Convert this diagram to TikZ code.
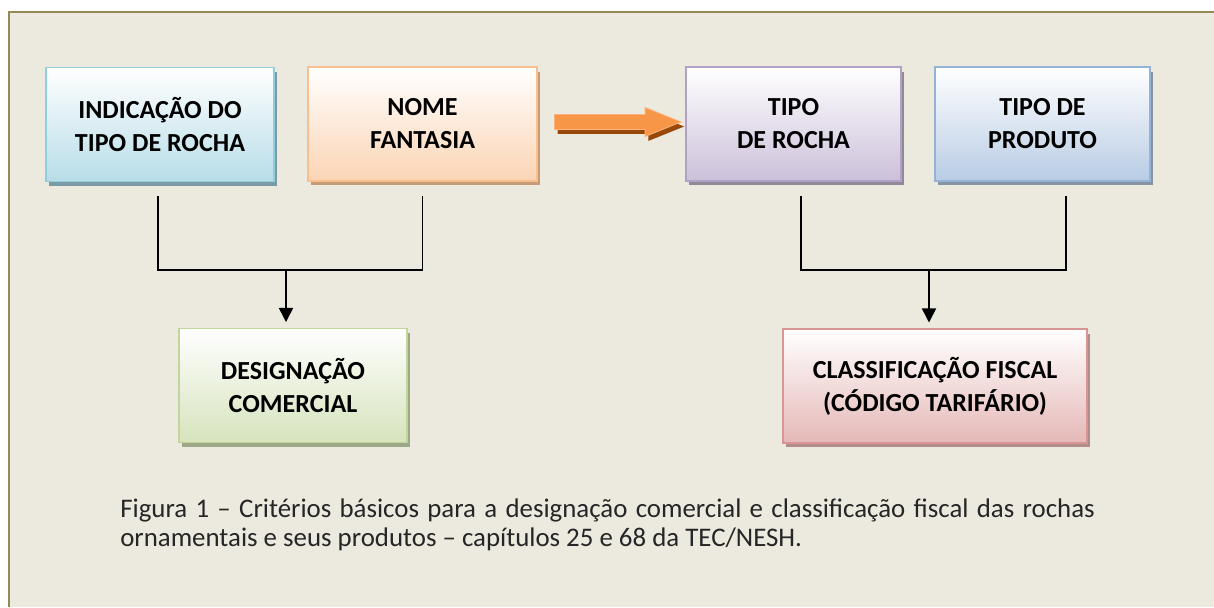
\documentclass[tikz,border=0pt]{standalone}
\usepackage{fontspec}
\setmainfont{Carlito}
\usetikzlibrary{shadows,shapes.arrows,arrows.meta}

\definecolor{fundo}{HTML}{ECE9DF}
\definecolor{moldura}{HTML}{948A54}
\definecolor{azulb}{HTML}{92CDDC}\definecolor{azulf}{HTML}{B7DDE8}\definecolor{azuls}{HTML}{7A9BA5}
\definecolor{laranjab}{HTML}{FABF8F}\definecolor{laranjaf}{HTML}{FBD4B4}\definecolor{laranjas}{HTML}{C49A78}
\definecolor{lilasb}{HTML}{B2A1C7}\definecolor{lilasf}{HTML}{CCC0DA}\definecolor{lilass}{HTML}{918898}
\definecolor{celesteb}{HTML}{95B3D7}\definecolor{celestef}{HTML}{B8CCE4}\definecolor{celestes}{HTML}{8593A2}
\definecolor{verdeb}{HTML}{C2D69B}\definecolor{verdef}{HTML}{D6E3BC}\definecolor{verdes}{HTML}{9DA888}
\definecolor{rosab}{HTML}{D99594}\definecolor{rosaf}{HTML}{E5B8B7}\definecolor{rosas}{HTML}{B08C8B}
\definecolor{seta}{HTML}{F79646}\definecolor{setab}{HTML}{FAB27A}\definecolor{setas}{HTML}{984807}

\tikzset{
  caixa/.style={rectangle, line width=1.3pt, minimum height=81pt, align=center,
    font=\fontsize{18.5}{23.5}\selectfont\bfseries},
  sombra/.style={drop shadow={shadow xshift=2.2pt, shadow yshift=-3.2pt, fill=#1, opacity=1}},
  ligacao/.style={line width=1.1pt},
  flecha/.style={line width=1.1pt, -{Triangle[width=10pt,length=10pt]}, shorten >=4pt},
}

\begin{document}
\begin{tikzpicture}[x=0.025cm,y=-0.025cm]
	\useasboundingbox (0,0) rectangle (1214,607);
	\fill[white] (0,0) rectangle (1214,607);
	\fill[fundo] (9,12) rectangle (1214,607);
	\draw[moldura, line width=1.5pt] (9,607) -- (9,12) -- (1214,12);

	\node[caixa, draw=azulb, top color=white, bottom color=azulf, sombra=azuls, minimum width=162pt] (indicacao) at (160,124.5) {INDICAÇÃO DO\\TIPO DE ROCHA};
	\node[caixa, draw=laranjab, top color=white, bottom color=laranjaf, sombra=laranjas, minimum width=163pt] (nome) at (422.5,124) {NOME\\FANTASIA};
	\node[caixa, draw=lilasb, top color=white, bottom color=lilasf, sombra=lilass, minimum width=153pt] (rocha) at (793.5,124) {TIPO\\DE ROCHA};
	\node[caixa, draw=celesteb, top color=white, bottom color=celestef, sombra=celestes, minimum width=153pt] (produto) at (1042.5,124) {TIPO DE\\PRODUTO};
	\node[caixa, draw=verdeb, top color=white, bottom color=verdef, sombra=verdes, minimum width=162pt] (designacao) at (293,385.5) {DESIGNAÇÃO\\COMERCIAL};
	\node[caixa, draw=rosab, top color=white, bottom color=rosaf, sombra=rosas, minimum width=216pt] (classificacao) at (935,386) {CLASSIFICAÇÃO FISCAL\\(CÓDIGO TARIFÁRIO)};

	\node[single arrow, fill=seta, draw=setab, line width=0.6pt, inner sep=5pt, minimum height=90pt, minimum width=20pt,
		single arrow head extend=5pt, single arrow tip angle=44, sombra=setas] (passa) at (608.5,122) {};

	\coordinate (m1) at (286,270);
	\coordinate (m2) at (929,270);

	\draw[ligacao] ([xshift=-1.4pt,yshift=-10pt]indicacao.south) |- (m1) -| ([yshift=-10pt]nome.south);
	\draw[flecha] (m1) -- (m1 |- designacao.north);
	\draw[ligacao] ([xshift=5.3pt,yshift=-10pt]rocha.south) |- (m2) -| ([xshift=16.7pt,yshift=-10pt]produto.south);
	\draw[flecha] (m2) -- (m2 |- classificacao.north);

	\node[anchor=north west, inner sep=0pt, text width=693pt, align=justify, font=\fontsize{19.1}{20}\selectfont, text=black!85] (legenda) at (120,499)
		{Figura 1 – Critérios básicos para a designação comercial e classificação fiscal das rochas\linebreak ornamentais e seus produtos – capítulos 25 e 68 da TEC/NESH.};
\end{tikzpicture}
\end{document}
